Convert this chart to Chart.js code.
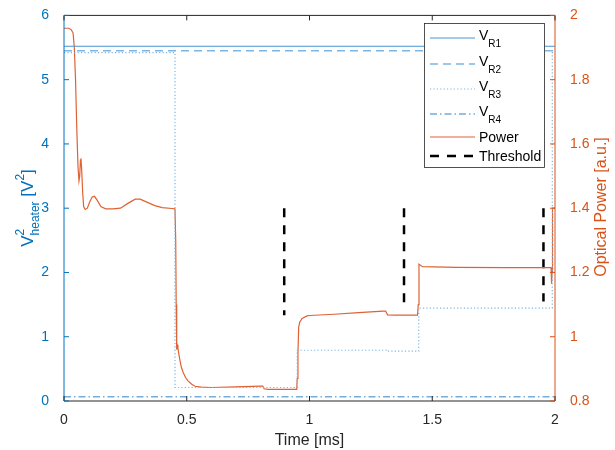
<!DOCTYPE html>
<html><head><meta charset="utf-8">
<script src="https://cdn.jsdelivr.net/npm/chart.js@4/dist/chart.umd.min.js"></script>
<style>html,body{margin:0;padding:0;background:#fff}</style>
</head><body>
<canvas id="c" width="615" height="450"></canvas>
<script>
// ---- data (time in ms) ----
const xTicks = [0, 0.5, 1, 1.5, 2];
const leftTicks = [0, 1, 2, 3, 4, 5, 6];
const rightTicks = [0.8, 1.0, 1.2, 1.4, 1.6, 1.8, 2.0];

const vr1Time = [0, 2];
const vr1Val  = [5.52, 5.52];
const vr2Time = [0, 2];
const vr2Val  = [5.45, 5.45];
const vr3Time = [0, 0.452, 0.452, 0.95, 0.95, 1.314, 1.314, 1.445, 1.445, 1.989, 1.989, 2.0];
const vr3Val  = [5.42, 5.42, 0.21, 0.21, 0.79, 0.79, 0.775, 0.775, 1.446, 1.446, 5.42, 5.42];
const vr4Time = [0, 2];
const vr4Val  = [0.065, 0.065];

const powTime = [0, 0.02, 0.03, 0.037, 0.042, 0.047, 0.052, 0.057, 0.061, 0.064, 0.067, 0.069, 0.072, 0.076, 0.08, 0.086,
  0.095, 0.105, 0.115, 0.124, 0.135, 0.15, 0.17, 0.2, 0.23, 0.26, 0.29, 0.31, 0.34, 0.37, 0.40, 0.44, 0.452,
  0.455, 0.457, 0.459, 0.461, 0.464, 0.468, 0.472, 0.478, 0.486, 0.495, 0.506, 0.52, 0.534, 0.56, 0.6, 0.7, 0.8,
  0.81, 0.815, 0.83, 0.9, 0.948, 0.95, 0.953, 0.956, 0.96, 0.97, 0.99, 1.0, 1.1, 1.2, 1.3, 1.31, 1.318, 1.35,
  1.44, 1.443, 1.446, 1.46, 1.6, 1.8, 1.984, 1.986, 1.988, 1.99, 2.0];
const powVal  = [1.96, 1.96, 1.955, 1.945, 1.90, 1.80, 1.65, 1.53, 1.485, 1.50, 1.55, 1.555, 1.52, 1.45, 1.405, 1.396,
  1.40, 1.42, 1.435, 1.437, 1.425, 1.405, 1.398, 1.398, 1.40, 1.415, 1.428, 1.428, 1.418, 1.408, 1.402, 1.399, 1.398,
  1.30, 1.10, 0.96, 0.975, 0.965, 0.945, 0.928, 0.905, 0.888, 0.873, 0.862, 0.852, 0.846, 0.843, 0.842, 0.844, 0.846,
  0.846, 0.838, 0.836, 0.836, 0.836, 0.87, 0.95, 1.03, 1.045, 1.057, 1.065, 1.066, 1.07, 1.075, 1.08, 1.08, 1.068, 1.067,
  1.067, 1.10, 1.226, 1.218, 1.216, 1.215, 1.215, 1.165, 1.20, 1.40, 1.40];

const thrTime = [0.897, 0.897, 0.897, 1.385, 1.385, 1.385, 1.953, 1.953];
const thrVal  = [1.4, 1.067, null, 1.4, 1.104, null, 1.4, 1.11];

// ---- styles ----
const BLUE = '#0072BD', ORANGE = '#D95319', DARK = '#262626';
const FONT = '"Liberation Sans", Arial, Helvetica, sans-serif';
const pts = (t, v) => t.map((x, i) => ({x: x, y: v[i]}));

const datasets = [
  {label: 'VR1', data: pts(vr1Time, vr1Val), yAxisID: 'y', borderColor: '#4696D3', borderWidth: 1.2},
  {label: 'VR2', data: pts(vr2Time, vr2Val), yAxisID: 'y', borderColor: '#7CB5E2', borderWidth: 1.5, borderDash: [8, 5]},
  {label: 'VR3', data: pts(vr3Time, vr3Val), yAxisID: 'y', borderColor: '#7CB5E2', borderWidth: 1.2, borderDash: [1.2, 2.2]},
  {label: 'VR4', data: pts(vr4Time, vr4Val), yAxisID: 'y', borderColor: '#74ADDC', borderWidth: 1.4, borderDash: [7, 3, 1.5, 3]},
  {label: 'Power', data: pts(powTime, powVal), yAxisID: 'y1', borderColor: '#DE6234', borderWidth: 1.2},
  {label: 'Threshold', data: pts(thrTime, thrVal), yAxisID: 'y1', borderColor: '#000', borderWidth: 2.5, borderDash: [9, 8]}
].map(d => Object.assign({showLine: true, pointRadius: 0, fill: false, tension: 0, spanGaps: false}, d));

const fmt = v => String(Number(v.toFixed(1)));

const decor = {
  id: 'decor',
  afterDatasetsDraw(chart) {
    const ctx = chart.ctx, a = chart.chartArea;
    const sx = chart.scales.x, sy = chart.scales.y, sy1 = chart.scales.y1;
    ctx.save();
    // box lines
    ctx.lineWidth = 1;
    ctx.strokeStyle = DARK;
    ctx.beginPath(); ctx.moveTo(a.left, a.bottom); ctx.lineTo(a.right, a.bottom); ctx.stroke();
    ctx.beginPath(); ctx.moveTo(a.left, a.top); ctx.lineTo(a.right, a.top); ctx.stroke();
    ctx.strokeStyle = BLUE;
    ctx.beginPath(); ctx.moveTo(a.left, a.top); ctx.lineTo(a.left, a.bottom); ctx.stroke();
    ctx.strokeStyle = ORANGE;
    ctx.beginPath(); ctx.moveTo(a.right, a.top); ctx.lineTo(a.right, a.bottom); ctx.stroke();
    const TL = 5;
    // x ticks inward top and bottom
    ctx.strokeStyle = DARK;
    sx.ticks.forEach(t => {
      const p = sx.getPixelForValue(t.value);
      ctx.beginPath(); ctx.moveTo(p, a.bottom); ctx.lineTo(p, a.bottom - TL); ctx.stroke();
      ctx.beginPath(); ctx.moveTo(p, a.top); ctx.lineTo(p, a.top + TL); ctx.stroke();
    });
    ctx.strokeStyle = BLUE;
    sy.ticks.forEach(t => {
      const p = sy.getPixelForValue(t.value);
      ctx.beginPath(); ctx.moveTo(a.left, p); ctx.lineTo(a.left + TL, p); ctx.stroke();
    });
    ctx.strokeStyle = ORANGE;
    sy1.ticks.forEach(t => {
      const p = sy1.getPixelForValue(t.value);
      ctx.beginPath(); ctx.moveTo(a.right, p); ctx.lineTo(a.right - TL, p); ctx.stroke();
    });

    // legend
    const lx = 424.5, ly = 23.5, lw = 120, lh = 144;
    ctx.fillStyle = '#fff';
    ctx.fillRect(lx, ly, lw, lh);
    ctx.strokeStyle = DARK; ctx.lineWidth = 0.8;
    ctx.strokeRect(lx, ly, lw, lh);
    const rows = [
      {ds: 0, y: 38, main: 'V', sub: 'R1'},
      {ds: 1, y: 64, main: 'V', sub: 'R2'},
      {ds: 2, y: 89, main: 'V', sub: 'R3'},
      {ds: 3, y: 114, main: 'V', sub: 'R4'},
      {ds: 4, y: 137, main: 'Power'},
      {ds: 5, y: 156, main: 'Threshold'}
    ];
    rows.forEach(r => {
      const d = chart.data.datasets[r.ds];
      ctx.save();
      ctx.strokeStyle = d.borderColor; ctx.lineWidth = d.borderWidth;
      ctx.setLineDash(d.borderDash || []);
      ctx.beginPath(); ctx.moveTo(430, r.y); ctx.lineTo(475, r.y); ctx.stroke();
      ctx.restore();
      ctx.fillStyle = '#000';
      ctx.textBaseline = 'alphabetic'; ctx.textAlign = 'left';
      ctx.font = '14px ' + FONT;
      if (r.sub) {
        ctx.fillText(r.main, 479, r.y + 2);
        const w = ctx.measureText(r.main).width;
        ctx.font = '10px ' + FONT;
        ctx.fillText(r.sub, 479 + w, r.y + 9);
      } else {
        ctx.fillText(r.main, 479, r.y + 5);
      }
    });

    // axis titles
    ctx.fillStyle = DARK; ctx.textAlign = 'center'; ctx.textBaseline = 'alphabetic';
    ctx.font = '16px ' + FONT;
    ctx.fillText('Time [ms]', (a.left + a.right) / 2, 445);

    // right title
    ctx.save();
    ctx.translate(606, 207); ctx.rotate(-Math.PI / 2);
    ctx.fillStyle = ORANGE; ctx.font = '16px ' + FONT; ctx.textAlign = 'center';
    ctx.fillText('Optical Power [a.u.]', 0, 0);
    ctx.restore();

    // left title V^2_heater [V^2]
    ctx.save();
    ctx.translate(33, 208); ctx.rotate(-Math.PI / 2);
    ctx.fillStyle = BLUE; ctx.textAlign = 'left';
    const big = '17px ' + FONT, small = '12px ' + FONT;
    ctx.font = big; const wV = ctx.measureText('V').width, wR = ctx.measureText(' [V').width, wB = ctx.measureText(']').width;
    ctx.font = small; const wH = ctx.measureText('heater').width, w2 = ctx.measureText('2').width;
    const total = wV + Math.max(wH, w2) + wR + w2 + wB;
    let x = -total / 2;
    ctx.font = big; ctx.fillText('V', x, 0); x += wV;
    ctx.font = small; ctx.fillText('2', x, -9); ctx.fillText('heater', x, 6); x += Math.max(wH, w2);
    ctx.font = big; ctx.fillText(' [V', x, 0); x += wR;
    ctx.font = small; ctx.fillText('2', x, -9); x += w2;
    ctx.font = big; ctx.fillText(']', x, 0);
    ctx.restore();

    ctx.restore();
  }
};

new Chart(document.getElementById('c'), {
  type: 'scatter',
  data: {datasets: datasets},
  options: {
    responsive: false,
    animation: false,
    devicePixelRatio: 1,
    layout: {padding: {top: 11, left: 0, right: 0, bottom: 0}},
    plugins: {legend: {display: false}, tooltip: {enabled: false}},
    scales: {
      x: {
        type: 'linear', min: 0, max: 2,
        afterBuildTicks: s => { s.ticks = xTicks.map(v => ({value: v})); },
        afterFit: s => { s.height = 49; },
        grid: {display: false}, border: {display: false},
        ticks: {autoSkip: false, maxRotation: 0, padding: 3, color: DARK, font: {family: FONT, size: 14}, callback: v => fmt(v)}
      },
      y: {
        type: 'linear', position: 'left', min: 0, max: 6,
        afterBuildTicks: s => { s.ticks = leftTicks.map(v => ({value: v})); },
        afterFit: s => { s.width = 64; },
        grid: {display: false}, border: {display: false},
        ticks: {autoSkip: false, padding: 7, color: BLUE, font: {family: FONT, size: 14}, callback: v => fmt(v)}
      },
      y1: {
        type: 'linear', position: 'right', min: 0.8, max: 2,
        afterBuildTicks: s => { s.ticks = rightTicks.map(v => ({value: v})); },
        afterFit: s => { s.width = 60; },
        grid: {display: false}, border: {display: false},
        ticks: {autoSkip: false, padding: 7, color: ORANGE, font: {family: FONT, size: 14}, callback: v => fmt(v)}
      }
    }
  },
  plugins: [decor]
});
</script>
</body></html>
